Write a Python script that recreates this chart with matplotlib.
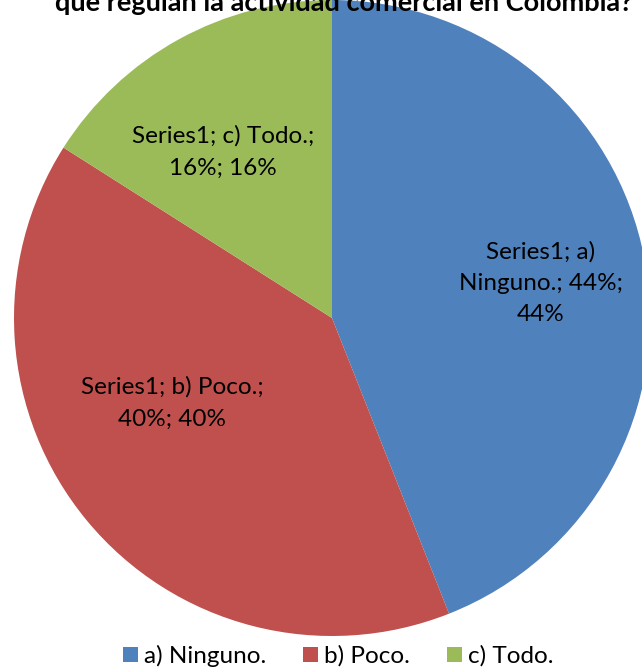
import matplotlib.pyplot as plt

categories = ["a) Ninguno.", "b) Poco.", "c) Todo."]
values = [44, 40, 16]
colors = ["#4F81BD", "#C0504D", "#9BBB59"]
slice_labels = ["Series1; a)\nNinguno.; 44%;\n44%",
                "Series1; b) Poco.;\n40%; 40%",
                "Series1; c) Todo.;\n16%; 16%"]

plt.rcParams['font.family'] = ['Lato', 'DejaVu Sans']

fig = plt.figure(figsize=(6.42, 6.72), dpi=100)
ax = fig.add_axes([0, 0, 1, 1])

wedges, _ = ax.pie(values, colors=colors, startangle=90, counterclock=False,
                   center=(332, 354), radius=318, frame=True,
                   wedgeprops=dict(linewidth=0))
ax.set_xlim(0, 642)
ax.set_ylim(0, 672)
ax.axis('off')

# data labels inside slices
label_pos = [(541, 389), (172, 269), (223, 520)]
for (x, y), txt in zip(label_pos, slice_labels):
    ax.text(x, y, txt, ha='center', va='center', fontsize=17.5,
            color='black', linespacing=1.62)

# title (cut off at the top in the original)
ax.text(344, 661, "que regulan la actividad comercial en Colombia?",
        ha='center', va='baseline', fontsize=19.5, fontweight='bold', color='black')

ax.legend(wedges, categories, loc='center', bbox_to_anchor=(0.527, 16 / 672),
          ncol=3, frameon=False, fontsize=17.5, handlelength=0.62, handleheight=0.62,
          columnspacing=1.5, handletextpad=0.25, borderpad=0)

fig.savefig("out.png", dpi=100)
plt.close()
